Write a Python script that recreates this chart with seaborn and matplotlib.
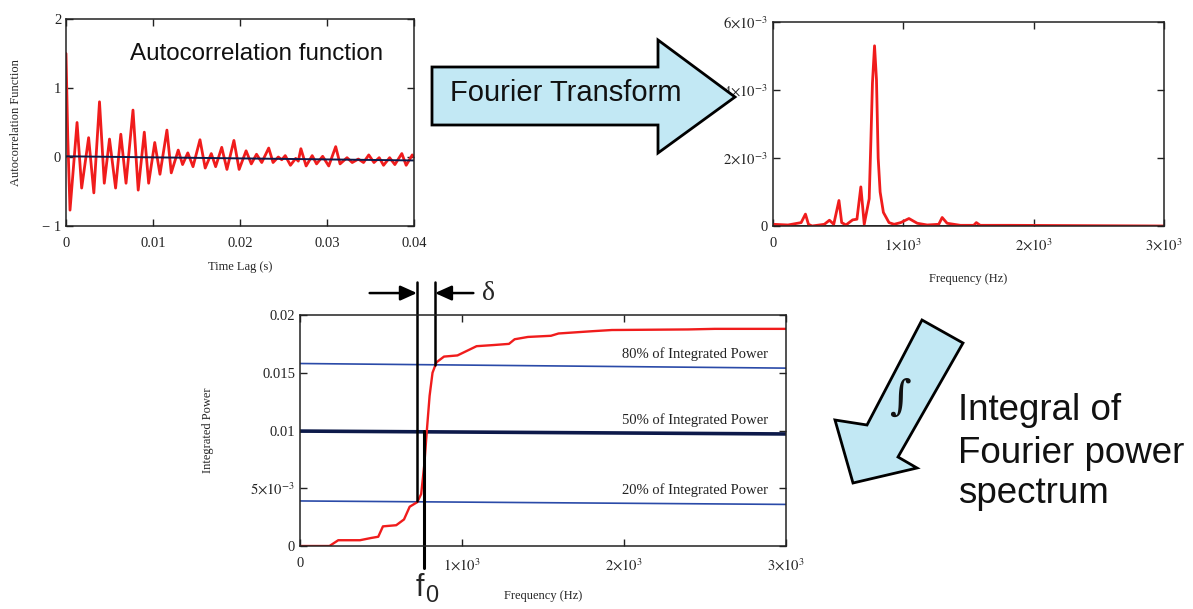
import numpy as np
import pandas as pd
import matplotlib
matplotlib.use("Agg")
import matplotlib.pyplot as plt
import seaborn as sns
from matplotlib.patches import Polygon

# ---------------- data ----------------
acf_t = [0, 0.0002, 0.00046, 0.00127, 0.0018, 0.0026, 0.0032, 0.00385, 0.0044, 0.005,
         0.0057, 0.0063, 0.0069, 0.0077, 0.0083, 0.009, 0.0095, 0.0102, 0.0108, 0.0116,
         0.0121, 0.0129, 0.0134, 0.014, 0.0146, 0.0154, 0.016, 0.0167, 0.0172, 0.0179,
         0.0185, 0.0193, 0.0199, 0.0207, 0.0213, 0.0219, 0.0225, 0.0233, 0.0238, 0.0244,
         0.0248, 0.0252, 0.0258, 0.0264, 0.0267, 0.027, 0.0276, 0.0283, 0.0288, 0.0295,
         0.0302, 0.031, 0.0315, 0.0323, 0.0329, 0.0336, 0.0342, 0.0348, 0.0354, 0.036,
         0.0365, 0.0372, 0.0378, 0.0386, 0.0391, 0.0398, 0.04]
acf_v = [1.5, 0.3, -0.77, 0.5, -0.45, 0.28, -0.52, 0.8, -0.38, 0.26,
         -0.45, 0.33, -0.38, 0.68, -0.48, 0.36, -0.38, 0.21, -0.25, 0.39,
         -0.23, 0.1, -0.11, 0.06, -0.14, 0.25, -0.16, 0.05, -0.14, 0.14,
         -0.18, 0.24, -0.18, 0.09, -0.1, 0.04, -0.08, 0.13, -0.08, 0.0,
         -0.04, 0.02, -0.12, -0.02, -0.06, 0.12, -0.13, 0.02, -0.1, 0.01,
         -0.13, 0.15, -0.1, -0.01, -0.08, -0.03, -0.08, 0.03, -0.08, -0.01,
         -0.12, -0.01, -0.11, 0.05, -0.12, 0.03, 0.0]
acf_zero_t = [0.0, 0.04]
acf_zero_v = [0.01, -0.05]

spec_f = [0, 115, 216, 249, 272, 300, 394, 433, 466, 506, 527, 560, 611, 644, 674,
          700, 738, 751, 763, 779, 794, 807, 822, 847, 890, 929, 980, 1043, 1107, 1183, 1272,
          1298, 1336, 1438, 1540, 1560, 1590, 1820, 3000]
spec_p = [0.00005, 0.00003, 0.0001, 0.00035, 0.00005, 0.0, 0.00005, 0.00017, 0.00005,
          0.00075, 0.0001, 0.00003, 0.00018, 0.0002, 0.00115, 0.00005, 0.0008, 0.0025, 0.0042,
          0.0053, 0.0043, 0.002, 0.001, 0.0004, 0.0001, 0.00005, 0.0001, 0.00022, 0.00008,
          0.00003, 0.00005, 0.00025, 0.00008, 0.00002, 0.00002, 0.0001, 0.00002,
          0.00002, 0.0]

cum_f = [0, 182, 236, 370, 441, 483, 512, 594, 642, 677, 724, 748, 767, 783, 800, 818,
         842, 889, 972, 1031, 1090, 1196, 1290, 1325, 1407, 1549, 1596, 1808, 1925,
         2396, 2561, 3000]
cum_p = [0, 0, 0.0005, 0.0005, 0.0007, 0.0008, 0.0017, 0.0018, 0.0023, 0.0034, 0.0038,
         0.0045, 0.007, 0.010, 0.013, 0.015, 0.0159, 0.0164, 0.0165, 0.0169, 0.0173,
         0.0174, 0.0175, 0.0179, 0.0181, 0.0182, 0.0184, 0.0186, 0.0187, 0.01875,
         0.0188, 0.0188]

level_names = ["80% of Integrated Power", "50% of Integrated Power", "20% of Integrated Power"]
level_left = [0.0158, 0.00995, 0.0039]
level_right = [0.0154, 0.0097, 0.0036]

f_low, f_0, f_high = 722, 766, 833

acf_xticks = [0, 0.01, 0.02, 0.03, 0.04]
acf_xticklabels = ["0", "0.01", "0.02", "0.03", "0.04"]
acf_yticks = [-1, 0, 1, 2]
acf_yticklabels = ["\u2212 1", "0", "1", "2"]
freq_ticks = [0, 1000, 2000, 3000]
freq_ticklabels = ["0", r"$1{\times}10^{3}$", r"$2{\times}10^{3}$", r"$3{\times}10^{3}$"]
spec_yticks = [0, 0.002, 0.004, 0.006]
spec_yticklabels = ["0", r"$2{\times}10^{-3}$", r"$4{\times}10^{-3}$", r"$6{\times}10^{-3}$"]
cum_yticks = [0, 0.005, 0.01, 0.015, 0.02]
cum_yticklabels = ["0", r"$5{\times}10^{-3}$", "0.01", "0.015", "0.02"]

caption_lines = ["Integral of", "Fourier power", "spectrum"]

# ---------------- style ----------------
sns.set_style("ticks")
plt.rcParams["font.family"] = ["Liberation Serif", "DejaVu Serif"]
plt.rcParams["mathtext.fontset"] = "stix"

RED = "#f01c1c"
BLUE = "#2a4aa8"
NAVY = "#0d1a4a"
ARROW_FILL = "#c2e8f4"
SANS = ["Liberation Sans", "DejaVu Sans"]

W, H = 1193, 609
fig = plt.figure(figsize=(W / 100, H / 100), dpi=100)
fig.patch.set_facecolor("white")


def px_axes(left, top, right, bottom):
    return fig.add_axes([left / W, 1 - bottom / H, (right - left) / W, (bottom - top) / H])


def style(ax):
    for s in ax.spines.values():
        s.set_color("#222222")
        s.set_linewidth(1.1)
    ax.tick_params(direction="in", top=True, right=True, length=5, width=1,
                   labelsize=10.5, colors="#222222", labelcolor="#222222")
    ax.set_facecolor("white")


# ---- Panel 1: autocorrelation ----
ax1 = px_axes(66, 19, 414, 226)
df1 = pd.DataFrame({"t": acf_t, "v": acf_v})
sns.lineplot(data=df1, x="t", y="v", ax=ax1, color=RED, lw=2.0, estimator=None, sort=False,
             solid_joinstyle="round")
sns.lineplot(x=acf_zero_t, y=acf_zero_v, ax=ax1, color=NAVY, lw=1.4, estimator=None)
ax1.set_xlim(0, 0.04)
ax1.set_ylim(-1, 2)
ax1.set_xticks(acf_xticks)
ax1.set_xticklabels(acf_xticklabels)
ax1.set_yticks(acf_yticks)
ax1.set_yticklabels(acf_yticklabels)
style(ax1)
ax1.tick_params(axis="x", pad=8)
ax1.set_xlabel("Time Lag (s)", fontsize=9, labelpad=8)
ax1.set_ylabel("Autocorrelation Function", fontsize=9, labelpad=14)
fig.text(130 / W, 1 - 60 / H, "Autocorrelation function", family=SANS, fontsize=17.4,
         color="#111111", va="baseline", ha="left")

# ---- Panel 2: Fourier power spectrum ----
ax2 = px_axes(773, 22, 1164, 226)
df2 = pd.DataFrame({"f": spec_f, "p": spec_p})
ax2.axhline(0, color="#111111", lw=1.2)
sns.lineplot(data=df2, x="f", y="p", ax=ax2, color=RED, lw=2.0, estimator=None, sort=False,
             solid_joinstyle="round")
ax2.set_xlim(0, 3000)
ax2.set_ylim(0, 0.006)
ax2.set_xticks(freq_ticks)
ax2.set_xticklabels(freq_ticklabels)
ax2.set_yticks(spec_yticks)
ax2.set_yticklabels(spec_yticklabels)
style(ax2)
ax2.tick_params(axis="x", pad=8)
ax2.set_xlabel("Frequency (Hz)", fontsize=9, labelpad=14)
ax2.set_ylabel("")

# ---- Panel 3: integrated power ----
ax3 = px_axes(300, 315, 786, 546)
df3 = pd.DataFrame({"f": cum_f, "p": cum_p})
for name, yl, yr in zip(level_names, level_left, level_right):
    lw = 2.6 if name.startswith("50") else 1.2
    col = NAVY if name.startswith("50") else BLUE
    sns.lineplot(x=[0, 3000], y=[yl, yr], ax=ax3, color=col, lw=lw, estimator=None)
    ax3.text(2890, yr + 0.0006, name, ha="right", va="bottom", fontsize=10.5, color="#222222")
sns.lineplot(data=df3, x="f", y="p", ax=ax3, color=RED, lw=1.7, estimator=None, sort=False)
ax3.set_xlim(0, 3000)
ax3.set_ylim(0, 0.02)
ax3.set_xticks(freq_ticks)
ax3.set_xticklabels(freq_ticklabels)
ax3.set_yticks(cum_yticks)
ax3.set_yticklabels(cum_yticklabels)
style(ax3)
ax3.tick_params(axis="x", pad=8)
ax3.set_xlabel("Frequency (Hz)", fontsize=9, labelpad=12)
ax3.set_ylabel("Integrated Power", fontsize=9, labelpad=26)

# vertical marker lines (extend outside the axes)
y_top = 0.0229
ax3.plot([f_low, f_low], [level_left[2], y_top], color="black", lw=1.8, clip_on=False)
ax3.plot([f_high, f_high], [0.0157, y_top], color="black", lw=1.8, clip_on=False)
ax3.plot([f_0, f_0], [level_left[1], -0.0019], color="black", lw=2.2, clip_on=False)
y_arr = 0.0219
ax3.annotate("", xy=(f_low, y_arr), xytext=(430, y_arr), annotation_clip=False,
             arrowprops=dict(arrowstyle="-|>,head_length=1.0,head_width=0.45", color="black", lw=1.8,
                             shrinkA=0, shrinkB=0))
ax3.annotate("", xy=(f_high, y_arr), xytext=(1070, y_arr), annotation_clip=False,
             arrowprops=dict(arrowstyle="-|>,head_length=1.0,head_width=0.45", color="black", lw=1.8,
                             shrinkA=0, shrinkB=0))
ax3.text(1125, y_arr, "\u03b4", fontsize=20, va="center", ha="left", clip_on=False,
         family=["Liberation Serif"])
ax3.text(f_0 - 50, -0.0023, "f", fontsize=22, va="top", ha="left", family=SANS, clip_on=False)
ax3.text(f_0 + 5, -0.0034, "0", fontsize=17, va="top", ha="left", family=SANS, clip_on=False)

# ---- overlay: big arrows and captions (pixel coordinates) ----
ov = fig.add_axes([0, 0, 1, 1], zorder=10)
ov.set_xlim(0, W)
ov.set_ylim(H, 0)
ov.axis("off")
ov.patch.set_alpha(0)

ft_arrow = [(432, 67), (658, 67), (658, 40), (735, 97), (658, 153), (658, 125), (432, 125)]
ov.add_patch(Polygon(ft_arrow, closed=True, facecolor=ARROW_FILL, edgecolor="black", lw=2))
ov.text(566, 93, "Fourier Transform", ha="center", va="center", family=SANS,
        fontsize=21, color="#111111")

int_arrow = [(922, 320), (867, 425), (835, 420), (853, 483), (917, 468), (898, 457), (963, 343)]
ov.add_patch(Polygon(int_arrow, closed=True, facecolor=ARROW_FILL, edgecolor="black", lw=2))
ov.text(900, 398, "\u222b", ha="center", va="center", fontsize=30, family=["DejaVu Serif"],
        color="#111111")
for line, base in zip(caption_lines, [420, 463, 503]):
    ov.text(958, base, line, ha="left", va="baseline", family=SANS, fontsize=26.5,
            color="#111111")

fig.savefig("out.png", dpi=100, facecolor="white")
